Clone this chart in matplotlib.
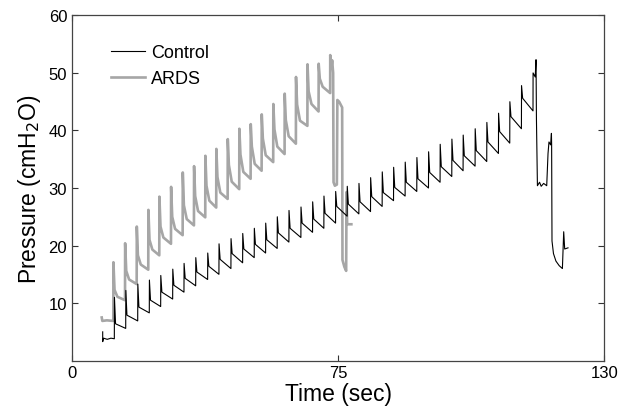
import numpy as np
import matplotlib.pyplot as plt

plt.rcParams["font.family"] = ["Liberation Sans", "DejaVu Sans"]

# ---- Control ----
ctrl_start_t = [7.49, 7.49, 7.7, 8.6, 9.5, 10.33]
ctrl_start_p = [5.0, 3.3, 3.9, 3.7, 3.9, 3.8]
ctrl_on = [10.33, 13.11, 16.04, 18.87, 21.65, 24.58, 27.34, 30.20, 33.12, 35.88,
           38.81, 41.67, 44.50, 47.28, 50.11, 52.97, 55.90, 58.75, 61.51, 64.37,
           67.20, 70.06, 72.91, 75.75, 78.53, 81.36, 84.21, 87.07, 89.90, 92.76,
           95.52, 98.45, 101.30, 104.16, 106.92, 109.77]
ctrl_peak = [11.0, 12.2, 13.3, 14.0, 14.8, 15.9, 16.9, 17.9, 18.7, 20.3,
             21.2, 22.1, 23.0, 23.9, 25.0, 26.1, 26.7, 27.6, 28.6, 29.4,
             30.3, 30.8, 31.8, 32.8, 33.6, 34.5, 35.3, 36.3, 37.6, 38.5,
             39.2, 40.3, 41.4, 43.0, 45.0, 47.8]
ctrl_shoulder = [6.4, 7.9, 9.3, 10.5, 11.9, 13.1, 14.3, 15.4, 16.4, 17.6,
                 18.6, 19.4, 20.2, 21.0, 22.2, 23.0, 23.9, 24.6, 25.6, 26.8,
                 27.2, 27.6, 28.5, 29.2, 30.1, 31.0, 31.6, 32.7, 33.7, 34.8,
                 35.6, 36.5, 38.0, 39.8, 42.4, 45.6]
ctrl_trough = [5.6, 6.9, 8.3, 9.4, 10.7, 11.9, 13.0, 14.1, 15.0, 16.0,
               17.0, 17.9, 18.7, 19.5, 20.6, 21.4, 22.3, 23.0, 23.9, 25.1,
               25.5, 25.9, 26.8, 27.8, 28.6, 29.4, 30.0, 31.0, 32.0, 33.0,
               33.8, 34.6, 36.0, 37.8, 40.3, 43.4]
ctrl_tail_t = [112.60, 112.62, 113.14, 113.34, 113.44, 113.68, 114.2, 114.6, 115.2,
               115.95, 116.27, 116.5, 116.9, 117.10, 117.15, 117.24, 117.6, 118.2,
               119.0, 119.78, 120.10, 120.34, 121.15]
ctrl_tail_p = [43.4, 50.0, 49.3, 52.3, 42.0, 30.4, 31.0, 30.3, 30.8,
               30.4, 36.0, 38.0, 37.5, 39.5, 37.6, 20.8, 18.6, 17.3,
               16.5, 16.0, 22.4, 19.4, 19.6]

# ---- ARDS ----
ards_start_t = [7.25, 7.4, 8.5, 10.08]
ards_start_p = [7.5, 6.9, 7.0, 6.9]
ards_on = [10.08, 12.94, 15.79, 18.62, 21.31, 24.17, 27.02, 29.78, 32.54, 35.22,
           38.01, 40.84, 43.62, 46.31, 49.14, 51.92, 54.68, 57.49, 60.22]
ards_peak = [17.1, 20.4, 23.3, 26.2, 28.5, 30.2, 32.7, 33.8, 35.6, 36.8,
             38.5, 40.3, 41.1, 42.8, 44.6, 46.4, 49.3, 51.5, 51.6]
ards_shoulder = [12.3, 15.6, 18.3, 21.0, 23.3, 25.0, 27.0, 28.6, 30.4, 31.9,
                 34.0, 35.8, 37.2, 38.6, 40.2, 41.8, 44.5, 46.8, 49.0]
ards_knee = [11.1, 14.1, 16.7, 19.3, 21.4, 22.9, 24.6, 26.0, 27.8, 29.2,
             31.1, 32.8, 34.2, 35.7, 37.2, 39.0, 41.7, 44.6, 47.6]
ards_trough = [10.5, 13.3, 15.8, 18.3, 20.3, 21.8, 23.5, 24.9, 26.6, 28.1,
               29.8, 31.6, 33.0, 34.5, 35.9, 37.7, 40.8, 43.3, 46.5]
ards_tail_t = [63.05, 63.07, 63.34, 63.54, 63.78, 63.88, 64.20, 64.69, 64.81,
               65.25, 65.98, 66.06, 66.52, 66.96, 67.05, 67.20, 68.23]
ards_tail_p = [46.5, 53.1, 50.8, 52.2, 50.0, 31.0, 30.4, 30.6, 45.3,
               45.0, 44.0, 17.5, 16.3, 15.6, 29.3, 23.7, 23.7]


def trace(on, peak, trough, mids, end_t):
    # mids: list of (time offset, values) after each spike
    t, p = [], []
    nxt = list(on[1:]) + [end_t]
    for i in range(len(on)):
        t += [on[i], on[i] + 0.03]
        p += [trough[i - 1] if i > 0 else None, peak[i]]
        for dt, vals in mids:
            t.append(on[i] + dt)
            p.append(vals[i])
        t.append(nxt[i])
        p.append(trough[i])
    return t[1:], p[1:]


ct, cp = trace(ctrl_on, ctrl_peak, ctrl_trough, [(0.3, ctrl_shoulder)], ctrl_tail_t[0])
ctrl_t = ctrl_start_t + ct + ctrl_tail_t[1:]
ctrl_p = ctrl_start_p + cp + ctrl_tail_p[1:]

at, ap = trace(ards_on, ards_peak, ards_trough,
               [(0.3, ards_shoulder), (1.0, ards_knee)], ards_tail_t[0])
ards_t = ards_start_t + at + ards_tail_t[1:]
ards_p = ards_start_p + ap + ards_tail_p[1:]

fig = plt.figure(figsize=(6.21, 4.10), dpi=100)
ax = fig.add_axes([0.116, 0.118, 0.857, 0.842])

ax.plot(ctrl_t, ctrl_p, color="black", lw=0.8, label="Control", zorder=3)
ax.plot(ards_t, ards_p, color="#a6a6a6", lw=1.9, label="ARDS", zorder=2)

ax.set_xlim(0, 130)
ax.set_ylim(0, 60)
ax.set_xticks([0, 65, 130])
ax.set_xticklabels(["0", "75", "130"])
ax.set_yticks([10, 20, 30, 40, 50, 60])
ax.tick_params(direction="in", top=True, right=True, labelsize=12,
               length=4, width=0.8, colors="#333333", labelcolor="black")
for s in ax.spines.values():
    s.set_color("#444444")
    s.set_linewidth(0.9)

ax.set_xlabel("Time (sec)", fontsize=16.5, labelpad=1)
ax.set_ylabel("Pressure (cmH$_2$O)", fontsize=16.5, labelpad=4)

ax.legend(loc="upper left", bbox_to_anchor=(0.06, 0.937), frameon=False,
          fontsize=13, handlelength=1.9, handletextpad=0.3, labelspacing=0.5,
          borderaxespad=0)

fig.savefig("out.png", dpi=100)
